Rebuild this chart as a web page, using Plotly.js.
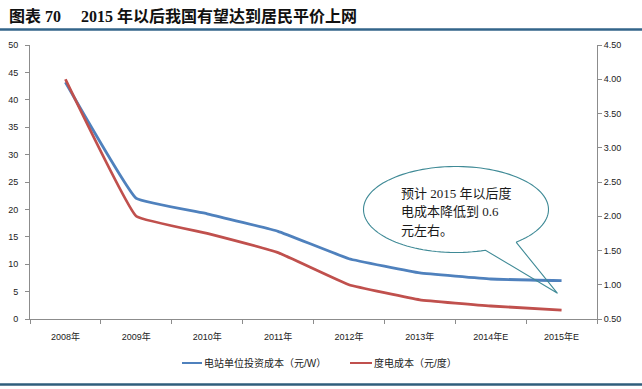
<!DOCTYPE html>
<html><head><meta charset="utf-8">
<script src="https://cdn.plot.ly/plotly-3.0.1.min.js"></script>
<style>body{margin:0;background:#fff}#chart{width:642px;height:389px}</style>
</head><body><div id="chart"></div>
<script>
const categories = ['2008年','2009年','2010年','2011年','2012年','2013年','2014年E','2015年E'];
const investCost = [43.2, 22, 19.2, 16, 11, 8.4, 7.3, 7.0];
const kwhCost = [4.0, 2.0, 1.75, 1.47, 1.0, 0.78, 0.69, 0.63];
const leftTicks = [0, 5, 10, 15, 20, 25, 30, 35, 40, 45, 50];
const rightTicks = [0.5, 1.0, 1.5, 2.0, 2.5, 3.0, 3.5, 4.0, 4.5];
const seriesNames = ['电站单位投资成本（元/W）', '度电成本（元/度）'];
const titleText = '图表 70\u00a0\u00a0\u00a0\u00a0 2015 年以后我国有望达到居民平价上网';
const calloutLines = ['预计 2015 年以后度', '电成本降低到 0.6', '元左右。'];

const BLUE = '#4F81BD', RED = '#C0504D', TEAL = '#3F8A96', AX = '#8c8c8c';
const L = 30, T = 45, W = 567, H = 274;
const px = x => (x - L) / W;
const py = y => (T + H - y) / H;

const font = 'Liberation Sans, Noto Sans CJK SC, sans-serif';
const serif = 'Liberation Serif, Noto Sans CJK SC, serif';

// callout outline (ellipse with gap + wedge), in pixel geometry
const cx = 456, cy = 209.5, rx = 92.5, ry = 43;
const tip = [557.5, 293.3];
const a0 = 49.5, a1 = 71.4 - 360;
let path = '';
for (let i = 0; i <= 120; i++) {
  const a = (a0 + (a1 - a0) * i / 120) * Math.PI / 180;
  const x = cx + rx * Math.cos(a), y = cy + ry * Math.sin(a);
  path += (i === 0 ? 'M' : 'L') + px(x).toFixed(5) + ',' + py(y).toFixed(5) + ' ';
}
const startA = a0 * Math.PI / 180;
path += 'L' + px(tip[0]).toFixed(5) + ',' + py(tip[1]).toFixed(5) + ' ';
path += 'L' + px(cx + rx * Math.cos(startA)).toFixed(5) + ',' + py(cy + ry * Math.sin(startA)).toFixed(5);

const traces = [
  {x: categories, y: investCost, type: 'scatter', mode: 'lines', name: seriesNames[0],
   line: {color: BLUE, width: 2.8, shape: 'spline', smoothing: 0.25}, yaxis: 'y', hoverinfo: 'skip'},
  {x: categories, y: kwhCost, type: 'scatter', mode: 'lines', name: seriesNames[1],
   line: {color: RED, width: 2.8, shape: 'spline', smoothing: 0.25}, yaxis: 'y2', hoverinfo: 'skip'}
];

const layout = {
  width: 642, height: 389,
  margin: {l: L, r: 642 - L - W, t: T, b: 389 - T - H, pad: 0},
  paper_bgcolor: '#fff', plot_bgcolor: '#fff',
  showlegend: false,
  xaxis: {type: 'category', range: [-0.5, 7.5], showgrid: false, zeroline: false,
    showline: true, linecolor: AX, linewidth: 1, ticks: 'outside', tickson: 'boundaries',
    ticklen: 4, tickcolor: AX, ticklabelstandoff: 9,
    tickfont: {family: font, size: 9, color: '#222'}},
  yaxis: {range: [0, 50], tickvals: leftTicks, showgrid: false, zeroline: false,
    showline: true, linecolor: AX, linewidth: 1, ticks: 'outside', ticklen: 4, tickcolor: AX,
    ticklabelstandoff: 5,
    tickfont: {family: font, size: 9, color: '#222'}},
  yaxis2: {range: [0.5, 4.5], tickvals: rightTicks, tickformat: '.2f', overlaying: 'y', side: 'right',
    showgrid: false, zeroline: false, showline: true, linecolor: AX, linewidth: 1,
    ticks: 'outside', ticklen: 4, tickcolor: AX,
    tickfont: {family: font, size: 9, color: '#222'}},
  shapes: [
    {type: 'line', xref: 'paper', yref: 'paper', x0: px(0), x1: px(642), y0: py(29.5), y1: py(29.5),
     line: {color: '#33658A', width: 2.5}},
    {type: 'line', xref: 'paper', yref: 'paper', x0: px(0), x1: px(642), y0: py(384.5), y1: py(384.5),
     line: {color: '#2F5E7C', width: 2.5}},
    {type: 'path', xref: 'paper', yref: 'paper', path: path, line: {color: TEAL, width: 1.1}},
    {type: 'line', xref: 'paper', yref: 'paper', x0: px(182), x1: px(202), y0: py(363), y1: py(363),
     line: {color: BLUE, width: 2}},
    {type: 'line', xref: 'paper', yref: 'paper', x0: px(350), x1: px(372), y0: py(363), y1: py(363),
     line: {color: RED, width: 2}}
  ],
  annotations: [
    {text: titleText, xref: 'paper', yref: 'paper', x: px(7), y: py(16), xanchor: 'left', yanchor: 'middle',
     showarrow: false, font: {family: serif, size: 16, color: '#111', weight: 'bold'}},
    {text: seriesNames[0], xref: 'paper', yref: 'paper', x: px(202), y: py(363), xanchor: 'left', yanchor: 'middle',
     showarrow: false, font: {family: font, size: 10, color: '#222'}},
    {text: seriesNames[1], xref: 'paper', yref: 'paper', x: px(372), y: py(363), xanchor: 'left', yanchor: 'middle',
     showarrow: false, font: {family: font, size: 10, color: '#222'}}
  ].concat(calloutLines.map((t, i) => ({
    text: t, xref: 'paper', yref: 'paper', x: px(399), y: py(193.5 + i * 18.3), xanchor: 'left', yanchor: 'middle',
    showarrow: false, font: {family: serif, size: 13, color: '#1a1a1a'}
  })))
};

Plotly.newPlot('chart', traces, layout, {displayModeBar: false, staticPlot: true});
</script></body></html>
